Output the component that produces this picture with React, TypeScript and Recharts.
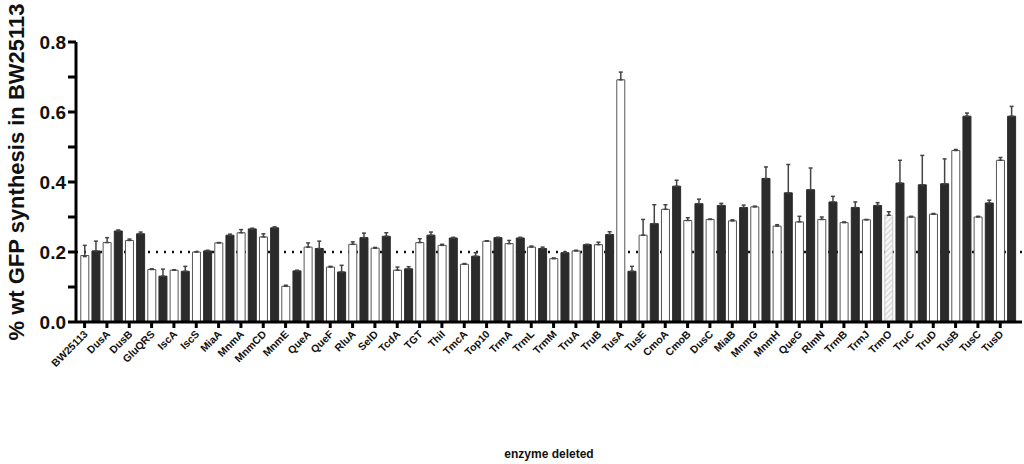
import React from 'react';
import { BarChart, Bar, XAxis, YAxis, ErrorBar, Cell, ReferenceLine } from 'recharts';

const categories = [
  'BW25113', 'DusA', 'DusB', 'GluQRS', 'IscA', 'IscS', 'MiaA', 'MnmA', 'MnmCD', 'MnmE',
  'QueA', 'QueF', 'RluA', 'SelD', 'TcdA', 'TGT', 'ThiI', 'TmcA', 'Top10', 'TrmA',
  'TrmL', 'TrmM', 'TruA', 'TruB', 'TusA', 'TusE', 'CmoA', 'CmoB', 'DusC', 'MiaB',
  'MnmG', 'MnmH', 'QueG', 'RlmN', 'TrmB', 'TrmJ', 'TrmO', 'TruC', 'TruD', 'TusB',
  'TusC', 'TusD',
];

// open bars
const whiteValues = [
  0.19, 0.227, 0.233, 0.15, 0.148, 0.2, 0.226, 0.255, 0.243, 0.102,
  0.214, 0.157, 0.222, 0.211, 0.148, 0.227, 0.219, 0.165, 0.231, 0.224,
  0.214, 0.181, 0.203, 0.221, 0.692, 0.248, 0.322, 0.29, 0.293, 0.289,
  0.329, 0.274, 0.286, 0.293, 0.284, 0.292, 0.305, 0.3, 0.308, 0.49,
  0.3, 0.462,
];
const whiteErrors = [
  0.029, 0.014, 0.004, 0.002, 0.001, 0.001, 0.001, 0.009, 0.009, 0.003,
  0.012, 0.002, 0.007, 0.002, 0.009, 0.011, 0.003, 0.002, 0.001, 0.009,
  0.003, 0.002, 0.002, 0.007, 0.022, 0.045, 0.013, 0.008, 0.001, 0.003,
  0.002, 0.004, 0.016, 0.007, 0.002, 0.001, 0.01, 0.002, 0.002, 0.003,
  0.002, 0.008,
];

// filled bars
const darkValues = [
  0.203, 0.26, 0.252, 0.131, 0.145, 0.203, 0.248, 0.266, 0.269, 0.146,
  0.21, 0.143, 0.241, 0.245, 0.152, 0.248, 0.24, 0.188, 0.241, 0.24,
  0.21, 0.198, 0.221, 0.25, 0.145, 0.281, 0.388, 0.338, 0.333, 0.327,
  0.41, 0.369, 0.378, 0.343, 0.327, 0.333, 0.397, 0.392, 0.395, 0.588,
  0.34, 0.588,
];
const darkErrors = [
  0.028, 0.003, 0.005, 0.02, 0.014, 0.002, 0.003, 0.002, 0.003, 0.002,
  0.021, 0.019, 0.013, 0.01, 0.006, 0.009, 0.002, 0.01, 0.001, 0.002,
  0.004, 0.002, 0.001, 0.008, 0.014, 0.054, 0.017, 0.013, 0.006, 0.007,
  0.033, 0.081, 0.062, 0.016, 0.016, 0.008, 0.065, 0.084, 0.071, 0.009,
  0.008, 0.028,
];

const yTicks = [0, 0.1, 0.2, 0.3, 0.4, 0.5, 0.6, 0.7, 0.8];
const hatched = ['TrmO'];

const rows = categories.flatMap((name, i) => [
  { key: name, kind: 'w', value: whiteValues[i], err: [i === 0 ? 0.003 : 0, whiteErrors[i]] },
  { key: name + '_d', kind: 'd', value: darkValues[i], err: [0, darkErrors[i]] },
]);

const FONT = 'Liberation Sans, Arial, Helvetica, sans-serif';

const XTick = (props: any) => {
  const { x, y, payload } = props;
  return (
    <g transform={`translate(${x + 1},${y + 2})`}>
      <text
        x={0}
        y={0}
        dy={4}
        textAnchor="end"
        transform="rotate(-45)"
        fontSize={10.5}
        fontWeight="bold"
        fontFamily={FONT}
        fill="#111"
      >
        {payload.value}
      </text>
    </g>
  );
};

const YTitle = () => (
  <text
    transform="translate(16,172) rotate(-90)"
    textAnchor="middle"
    dominantBaseline="central"
    fontSize={22}
    fontWeight="bold"
    fontFamily={FONT}
    fill="#111"
  >
    % wt GFP synthesis in BW25113
  </text>
);

export default function App() {
  return (
    <div style={{ position: 'absolute', left: 0, top: 0, width: 1024, height: 464, background: '#fff' }}>
      <BarChart
        width={1024}
        height={464}
        data={rows}
        margin={{ top: 42, right: 2, left: 0, bottom: 0 }}
        barCategoryGap="16%"
      >
        <defs>
          <pattern id="hatch" width="4" height="4" patternUnits="userSpaceOnUse" patternTransform="rotate(45)">
            <rect width="4" height="4" fill="#f6f6f6" />
            <line x1="0" y1="0" x2="0" y2="4" stroke="#d0d0d0" strokeWidth="2" />
          </pattern>
        </defs>
        <XAxis
          dataKey="key"
          interval={1}
          height={142}
          padding={{ left: 3, right: 5 }}
          tick={<XTick />}
          tickSize={6}
          axisLine={{ stroke: '#000', strokeWidth: 3 }}
          tickLine={{ stroke: '#000', strokeWidth: 3 }}
          label={{
            value: 'enzyme deleted',
            position: 'insideBottom',
            offset: 6,
            style: { fontSize: 12, fontWeight: 'bold', fontFamily: FONT, fill: '#111' },
          }}
        />
        <YAxis
          width={76}
          domain={[0, 0.8]}
          ticks={yTicks}
          interval={0}
          tickFormatter={(v: number) => (Math.round(v * 10) % 2 === 0 ? v.toFixed(1) : '')}
          tick={{ fontSize: 19, fontWeight: 'bold', fontFamily: FONT, fill: '#111' }}
          tickSize={8}
          axisLine={{ stroke: '#000', strokeWidth: 3 }}
          tickLine={{ stroke: '#000', strokeWidth: 3 }}
          label={{ value: '% wt GFP synthesis in BW25113', content: () => <YTitle /> }}
        />
        <ReferenceLine y={0.2} stroke="#111" strokeWidth={2.5} strokeDasharray="2 6" zIndex={50} />
        <Bar dataKey="value" isAnimationActive={false}>
          {rows.map((r) => (
            <Cell
              key={r.key}
              fill={r.kind === 'd' ? '#2b2b2b' : hatched.includes(r.key) ? 'url(#hatch)' : '#fff'}
              stroke={r.kind === 'd' ? '#2b2b2b' : hatched.includes(r.key) ? '#c8c8c8' : '#555'}
              strokeWidth={1}
            />
          ))}
          <ErrorBar dataKey="err" direction="y" width={2} stroke="#444" strokeWidth={1.5} />
        </Bar>
      </BarChart>
    </div>
  );
}
